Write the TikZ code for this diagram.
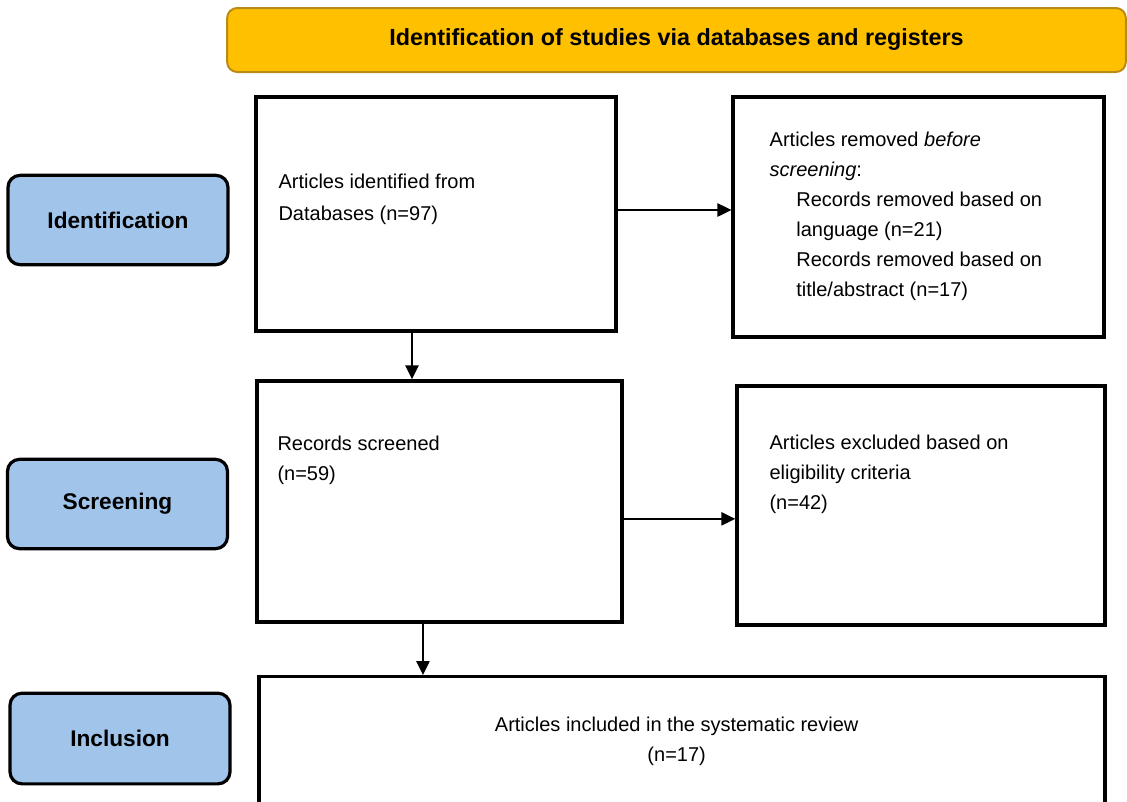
\documentclass[tikz,border=0pt]{standalone}
\usepackage{fontspec}
\setmainfont{Liberation Sans}
\usetikzlibrary{positioning,arrows.meta}
\definecolor{headyellow}{RGB}{255,192,0}
\definecolor{headedge}{RGB}{184,140,20}
\definecolor{phaseblue}{RGB}{160,196,234}

\begin{document}
\begin{tikzpicture}[
        x=0.75pt, y=-0.75pt,
        box/.style={draw, line width=2.6pt, inner sep=0pt},
        txt/.style={inner sep=0pt, align=left, font=\fontsize{15}{22.5}\selectfont},
        phase/.style={draw, line width=2.4pt, rounded corners=9pt, fill=phaseblue,
            minimum width=165pt, minimum height=67pt, font=\fontsize{17}{20}\selectfont\bfseries},
        head/.style={draw=headedge, line width=1.5pt, fill=headyellow, rounded corners=7.5pt,
            minimum width=674pt, minimum height=48pt, font=\fontsize{17.5}{20}\selectfont\bfseries},
        arrow/.style={-{Triangle[length=10.5pt,width=10pt]}, line width=1.2pt}
    ]
        \useasboundingbox (0,0) rectangle (1127,801);
        \clip (0,0) rectangle (1127,801);

        % Header
        \node[head] (head) at (676.5,40) {Identification of studies via databases and registers};

        % Phases
        \node[phase] (ident) at (118,220) {Identification};
        \node[phase] (screen) at (117.5,504) {Screening};
        \node[phase, minimum height=68pt] (incl) at (120,738.5) {Inclusion};

        % Boxes
        \node[box, minimum width=270pt, minimum height=175.5pt] (found) at (436,214) {};
        \node[box, minimum width=278pt, minimum height=180pt] (removed) at (918.5,217) {};
        \node[box, minimum width=273.75pt, minimum height=180.75pt] (screened) at (439.5,501.5) {};
        \node[box, minimum width=276pt, minimum height=179.25pt] (excluded) at (921,505.5) {};
        \node[box, minimum width=634.5pt, minimum height=180pt, anchor=north] (included) at (682,675) {};

        % Texts
        \node[txt, font=\fontsize{15}{24}\selectfont, below right=59pt and 18pt of found.north west]
            (foundtxt) {Articles identified from\\Databases (n=97)};
        \node[txt, below right=27pt and 28.5pt of removed.north west] (removedtxt)
            {Articles removed \textit{before}\\
             \textit{screening}:\\
             \hspace*{20pt}Records removed based on\\
             \hspace*{20pt}language (n=21)\\
             \hspace*{20pt}Records removed based on\\
             \hspace*{20pt}title/abstract (n=17)};
        \node[txt, below right=42pt and 16.5pt of screened.north west]
            (screenedtxt) {Records screened\\(n=59)};
        \node[txt, below right=37.5pt and 25.5pt of excluded.north west]
            (excludedtxt) {Articles excluded based on\\eligibility criteria\\(n=42)};
        \node[txt, align=center, anchor=north, xshift=-4pt, below=31.5pt of included.north]
            (includedtxt) {Articles included in the systematic review\\(n=17)};

        % Arrows
        \draw[arrow] ([yshift=3pt]found.east) -- ([yshift=3pt]found.east -| removed.west);
        \draw[arrow] ([xshift=-18pt]found.south) -- ([xshift=-18pt]found.south |- screened.north);
        \draw[arrow] ([yshift=-13pt]screened.east) -- ([yshift=-13pt]screened.east -| excluded.west);
        \draw[arrow] ([xshift=-12.4pt]screened.south) -- ([xshift=-12.4pt]screened.south |- included.north);
    \end{tikzpicture}
\end{document}
